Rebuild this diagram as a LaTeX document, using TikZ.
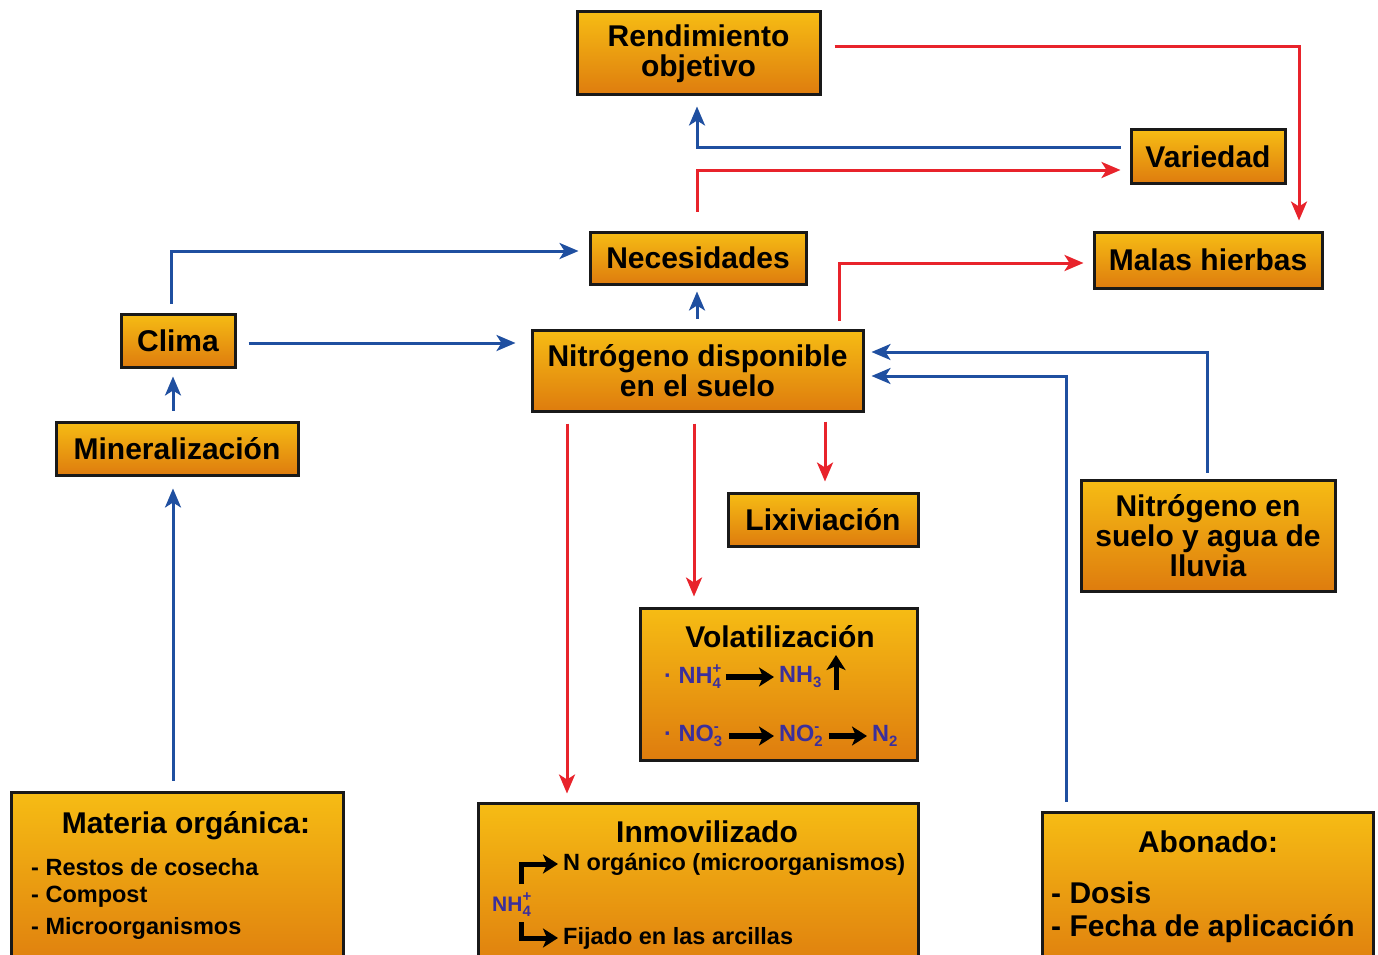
\documentclass[tikz,border=0pt]{standalone}
\usepackage{fontspec}
\setmainfont{Liberation Sans}
\usetikzlibrary{calc,arrows.meta}
\definecolor{bxtop}{HTML}{F6BC14}
\definecolor{bxbot}{HTML}{DE7C0E}
\definecolor{ared}{HTML}{E8232B}
\definecolor{ablue}{HTML}{1F4FA0}
\definecolor{chemc}{HTML}{3B2F9C}
\newcommand\chemss[2]{{\fontsize{15}{15}\selectfont\rlap{\raisebox{-5pt}{#1}}\makebox[10pt][l]{\raisebox{10pt}{#2}}}}
\newcommand\chemsub[1]{{\fontsize{15}{15}\selectfont\raisebox{-5pt}{#1}}}
\tikzset{
  box/.style={draw=black!90, line width=3pt, top color=bxtop, bottom color=bxbot,
    font=\fontsize{30}{30}\selectfont\bfseries, align=center, inner sep=0pt},
  ttl/.style={font=\fontsize{30}{30}\selectfont\bfseries, inner sep=0pt},
  item/.style={font=\fontsize{23.5}{24}\selectfont\bfseries, inner sep=0pt, anchor=west},
  bitem/.style={font=\fontsize{30}{30}\selectfont\bfseries, inner sep=0pt, anchor=west},
  chem/.style={font=\fontsize{23.5}{24}\selectfont\bfseries, text=chemc, inner sep=0pt},
  rarr/.style={draw=ared, line width=3pt, -{Stealth[length=19pt,width=16pt,inset=5pt]}},
  barr/.style={draw=ablue, line width=3pt, -{Stealth[length=19pt,width=16pt,inset=5pt]}},
  karr/.style={draw=black, line width=6pt, -{Stealth[length=15pt,width=19pt,inset=4pt]}},
}
\begin{document}
\begin{tikzpicture}[x=1pt,y=-1pt]
\useasboundingbox[fill=white] (0,0) rectangle (1378,955);
% boxes
\node[box, minimum width=243pt, minimum height=83pt] (rend) at (698.5,53.5) {Rendimiento\\objetivo};
\node[box, minimum width=154pt, minimum height=53pt] (var) at (1208,156.5) {Variedad};
\node[box, minimum width=216pt, minimum height=52pt] (nec) at (698,258) {Necesidades};
\node[box, minimum width=228pt, minimum height=56pt] (malas) at (1208,260) {Malas hierbas};
\node[box, minimum width=114pt, minimum height=53pt] (clima) at (178,340.5) {Clima};
\node[box, minimum width=331pt, minimum height=81pt] (ndisp) at (697.5,370.5) {Nitrógeno disponible\\en el suelo};
\node[box, minimum width=242pt, minimum height=53pt] (miner) at (177,448.5) {Mineralización};
\node[box, minimum width=190pt, minimum height=53pt] (lix) at (823,519.5) {Lixiviación};
\node[box, minimum width=254pt, minimum height=111pt] (nsuelo) at (1208,535.5) {Nitrógeno en\\suelo y agua de\\lluvia};
\node[box, minimum width=277pt, minimum height=152pt] (vol) at (778.5,684) {};
\node[box, minimum width=332pt, minimum height=183pt] (mat) at (177,883.5) {};
\node[box, minimum width=440pt, minimum height=172pt] (inm) at (698,889) {};
\node[box, minimum width=331pt, minimum height=163pt] (abo) at (1207.5,893.5) {};
% volatilizacion content
\node[ttl] (voltitle) at (780,637) {Volatilización};
\node[chem, anchor=west] (nh4) at (664,677) {· NH\chemss{4}{+}};
\node[chem, anchor=west] (nh3) at (779,677) {NH\chemsub{3}};
\coordinate (uptop) at (836,655);
\coordinate (upbot) at (836,690);
\node[chem, anchor=west] (no3) at (664,736) {· NO\chemss{3}{-}};
\node[chem, anchor=west] (no2) at (779,736) {NO\chemss{2}{-}};
\node[chem, anchor=west] (n2) at (872,736) {N\chemsub{2}};
\draw[karr] ($(nh4.east)+(3,0)$) -- ($(nh3.west)+(-5,0)$);
\draw[karr, line width=5pt] (upbot) -- (uptop);
\draw[karr] ($(no3.east)+(5,0)$) -- ($(no2.west)+(-5,0)$);
\draw[karr] ($(no2.east)+(4,0)$) -- ($(n2.west)+(-5,0)$);
% inmovilizado content
\node[ttl] (inmtitle) at (707,832) {Inmovilizado};
\node[item] (norg) at (563,864) {N orgánico (microorganismos)};
\node[item] (fij) at (563,938) {Fijado en las arcillas};
\node[chem, anchor=west, font=\fontsize{21}{22}\selectfont\bfseries] (nh4b) at (492,905) {NH\chemss{4}{+}};
\draw[karr, line width=5pt] (521,884) |- ($(norg.west)+(-5,0)$);
\draw[karr, line width=5pt] (521,922) |- ($(fij.west)+(-5,0)$);
% materia organica content
\node[ttl] (mattitle) at (186,826) {Materia orgánica:};
\node[item] (m1) at (31,867) {- Restos de cosecha};
\node[item] (m2) at (31,897) {- Compost};
\node[item] (m3) at (31,928) {- Microorganismos};
% abonado content
\node[ttl] (abotitle) at (1208,842) {Abonado:};
\node[bitem] (a1) at (1051,893) {- Dosis};
\node[bitem] (a2) at (1051,929) {- Fecha de aplicación};
% red connectors
\draw[rarr] ($(rend.east)+(13,-6.5)$) -| ($(malas.north)+(91,-10)$);
\draw[rarr] ($(nec.north)+(-1,-19)$) |- ($(var.west)+(-9,13.5)$);
\draw[rarr] ($(ndisp.north)+(141.5,-8)$) |- ($(malas.west)+(-9,3)$);
\draw[rarr] ($(ndisp.south)+(-130.5,11)$) -- ($(inm.north)+(-131,-8)$);
\draw[rarr] ($(ndisp.south)+(-3.5,11)$) -- ($(vol.north)+(-84.5,-10)$);
\draw[rarr] ($(ndisp.south)+(127.5,9)$) -- ($(lix.north)+(2,-10)$);
% blue connectors
\draw[barr] ($(var.west)+(-9,-9.5)$) -| ($(rend.south)+(-1.5,10)$);
\draw[barr] ($(clima.north)+(-7,-9)$) |- ($(nec.west)+(-10,-7)$);
\draw[barr] ($(clima.east)+(12,2.5)$) -- ($(ndisp.west)+(-15,-27.5)$);
\draw[barr] ($(ndisp.north)+(-0.5,-10)$) -- ($(nec.south)+(-1,6)$);
\draw[barr] ($(miner.north)+(-4,-10)$) -- ($(clima.south)+(-5,8)$);
\draw[barr] ($(mat.north)+(-4,-10)$) -- ($(miner.south)+(-4,12)$);
\draw[barr] ($(nsuelo.north)+(-1,-6)$) |- ($(ndisp.east)+(7,-18.5)$);
\draw[barr] ($(abo.north)+(-141.5,-9)$) |- ($(ndisp.east)+(7,5.5)$);
\end{tikzpicture}
\end{document}
